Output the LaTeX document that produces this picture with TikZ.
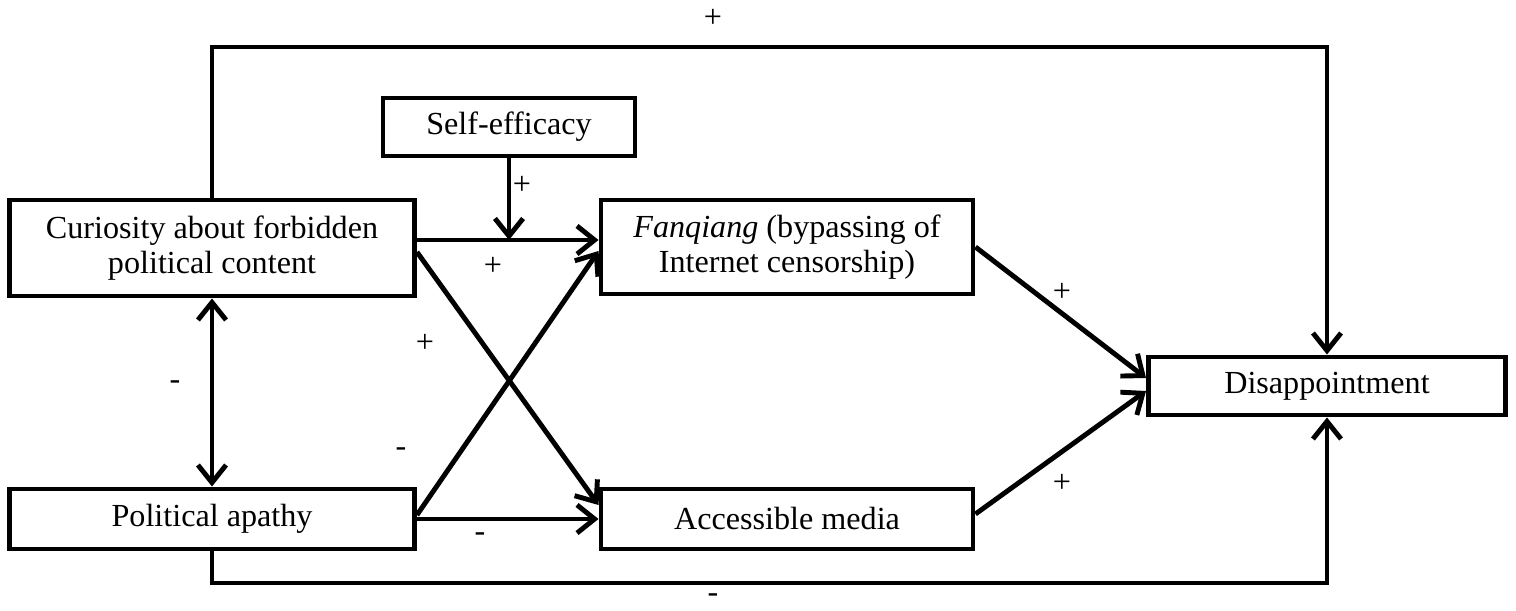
\documentclass[tikz,border=0pt]{standalone}
\usepackage{fontspec}
\setmainfont{Liberation Serif}
\usetikzlibrary{arrows.meta}
\newlength\pxl
\setlength\pxl{0.02cm}

\begin{document}
\begin{tikzpicture}
  [x=0.02cm,y=-0.02cm,line width=2.8pt,
   box/.style={draw,rectangle,inner sep=0pt,align=center,
     font=\fontsize{18.3}{20}\selectfont},
   sign/.style={inner sep=0pt,font=\fontsize{18.3}{20}\selectfont},
   arr/.style={-{Straight Barb[length=10pt,width=16pt,line width=2.8pt]}},
   arrs/.style={{Straight Barb[length=10pt,width=16pt,line width=2.8pt]}-{Straight Barb[length=10pt,width=16pt,line width=2.8pt]}}]
  \useasboundingbox (0,0) rectangle (1516,611);

  \node[box,minimum width=405\pxl,minimum height=96\pxl] (cur) at (212,248) {Curiosity about forbidden\\political content};
  \node[box,minimum width=405\pxl,minimum height=60\pxl] (apa) at (212,519) {Political apathy};
  \node[box,minimum width=252\pxl,minimum height=58\pxl] (self) at (509,127) {Self-efficacy};
  \node[box,minimum width=372\pxl,minimum height=94\pxl] (fan) at (787,247) {\textit{Fanqiang} (bypassing of\\Internet censorship)};
  \node[box,minimum width=372\pxl,minimum height=60\pxl] (med) at (787,519) {Accessible media};
  \node[box,minimum width=357\pxl,minimum height=58\pxl] (dis) at (1327,386) {Disappointment};

  \coordinate (topbar) at (713,47);
  \coordinate (botbar) at (713,583);
  \coordinate (mod) at (509,240);

  % outer paths
  \draw[arr] (cur.north) |- (topbar) -| (dis.north);
  \draw[arr] (apa.south) |- (botbar) -| (dis.south);
  \draw[arrs] (cur.south) -- (apa.north);

  % middle paths
  \draw[arr] (cur.east |- mod) -- (fan.west |- mod);
  \draw[arr] (self) -- (mod);
  \draw[arr] ([yshift=-4\pxl]cur.east) -- ([yshift=14\pxl]med.west);
  \draw[arr] ([yshift=4\pxl]apa.east) -- ([yshift=-4\pxl]fan.west);
  \draw[arr] (apa) -- (med);
  \draw[arr] (fan.east) -- ([yshift=8\pxl]dis.west);
  \draw[arr] ([yshift=5\pxl]med.east) -- ([yshift=-5\pxl]dis.west);

  \node[sign] (s1) at (713,18)   {+};
  \node[sign] (s2) at (713,598)  {-};
  \node[sign] (s3) at (175,385)  {-};
  \node[sign] (s4) at (522,185)  {+};
  \node[sign] (s5) at (493,266)  {+};
  \node[sign] (s6) at (425,343)  {+};
  \node[sign] (s7) at (401,452)  {-};
  \node[sign] (s8) at (480,537)  {-};
  \node[sign] (s9) at (1062,292) {+};
  \node[sign] (s10) at (1062,483) {+};
\end{tikzpicture}
\end{document}
